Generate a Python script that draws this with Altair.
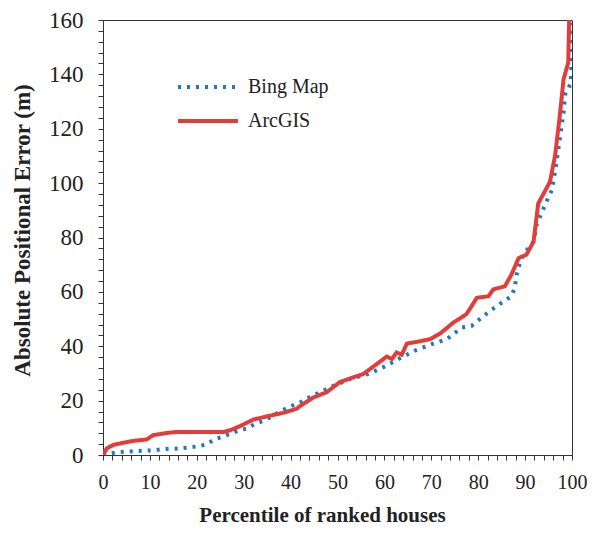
import altair as alt
import pandas as pd

# ArcGIS (solid red) curve
arc_x = [0, 0.8, 2.2, 4.3, 6.5, 9.3, 10.7, 13.6, 15.7, 25.7, 27.1, 29.2, 32.0, 34.9,
         38.4, 41.3, 42.0, 44.8, 47.7, 50.5, 53.4, 55.5, 58.4, 60.5, 61.6, 62.6, 63.7,
         64.8, 66.9, 69.7, 71.9, 72.6, 74.7, 77.5, 79.7, 82.2, 83.2, 85.7, 87.1, 88.6,
         90.3, 91.8, 92.5, 92.8, 93.9, 95.3, 96.4, 97.4, 98.2, 99.2, 99.4]
arc_y = [0, 2.4, 3.7, 4.5, 5.2, 5.7, 7.3, 8.1, 8.5, 8.5, 9.1, 10.6, 13.0, 14.2,
         15.5, 17.0, 18.0, 21.1, 23.1, 26.8, 28.6, 29.8, 33.5, 36.2, 35.3, 37.7, 36.9,
         41.0, 41.6, 42.6, 44.7, 45.7, 48.7, 51.8, 57.8, 58.4, 60.9, 62.1, 66.4, 72.4,
         73.7, 78.5, 88.3, 92.5, 96.0, 100.5, 110.2, 124.8, 138.2, 144.3, 160.0]

# Bing Map (dotted blue) curve
bing_x = [0, 2.6, 4.7, 6.5, 8.6, 10.6, 12.5, 14.4, 16.4, 18.4, 20.3, 22.1, 23.7, 25.5,
          27.2, 29.0, 30.6, 32.5, 34.2, 37.4, 39.2, 40.9, 42.7, 44.1, 49.1, 52.7, 56.6,
          59.8, 63.0, 66.5, 70.1, 73.3, 76.5, 78.6, 80.7, 82.5, 85.0, 87.1, 87.8, 88.3,
          89.6, 91.0, 91.8, 92.5, 94.5, 95.7, 96.6, 97.4, 98.2, 98.6, 99.7, 99.9, 100.0]
bing_y = [0, 0.9, 1.2, 1.4, 1.6, 1.7, 2.1, 2.3, 2.4, 2.8, 3.2, 3.9, 5.7, 6.7,
          7.9, 9.1, 9.7, 11.6, 12.5, 15.6, 17.3, 18.6, 19.8, 21.3, 25.4, 28.0, 29.8,
          32.3, 35.3, 38.4, 40.8, 42.6, 46.9, 47.5, 50.5, 53.0, 56.0, 58.4, 61.5, 67.6,
          73.7, 76.7, 78.5, 85.0, 93.0, 97.4, 106.6, 116.3, 126.0, 133.3, 136.4, 144.3, 159.0]

series = ["Bing Map", "ArcGIS"]
colors = ["#1f78c1", "#e23d3b"]
dashes = [[3, 6], [1, 0]]

x_ticks = list(range(0, 101, 2))
y_ticks = list(range(0, 161, 4))

df = pd.concat([
    pd.DataFrame({"pct": bing_x, "err": bing_y, "series": "Bing Map",
                  "ord": list(range(len(bing_x)))}),
    pd.DataFrame({"pct": arc_x, "err": arc_y, "series": "ArcGIS",
                  "ord": list(range(len(arc_x)))}),
])

FONT = "Liberation Serif"

legend = alt.Legend(
    title=None, orient="none", legendX=93, legendY=55, padding=0,
    symbolType="M-3,0L3,0", symbolSize=400, symbolStrokeWidth=4,
    labelFont=FONT, labelFontSize=20, labelColor="#222", labelOffset=28,
    rowPadding=12,
)

chart = alt.Chart(df).mark_line(clip=True, strokeWidth=4).encode(
    x=alt.X("pct:Q", scale=alt.Scale(domain=[0, 100], nice=False),
            title="Percentile of ranked houses",
            axis=alt.Axis(values=x_ticks,
                          labelExpr="datum.value % 10 === 0 ? datum.label : ''",
                          labelFlush=False, labelOverlap=False, labelFontSize=20,
                          labelPadding=12, titlePadding=12, titleX=219,
                          titleFontSize=21)),
    y=alt.Y("err:Q", scale=alt.Scale(domain=[0, 160], nice=False),
            title="Absolute Positional Error (m)",
            axis=alt.Axis(values=y_ticks,
                          labelExpr="datum.value % 20 === 0 ? datum.label : ''",
                          labelOverlap=False, labelFontSize=23, labelPadding=15,
                          titlePadding=14, titleFontSize=23, titleY=210)),
    color=alt.Color("series:N", scale=alt.Scale(domain=series, range=colors), legend=legend),
    strokeDash=alt.StrokeDash("series:N", scale=alt.Scale(domain=series, range=dashes), legend=legend),
    order="ord:Q",
).properties(
    width=469, height=435,
    autosize=alt.AutoSizeParams(type="none"),
    padding={"left": 95, "top": 12, "right": 15, "bottom": 72},
).configure(
    font=FONT,
).configure_view(
    stroke="#333", strokeWidth=1,
).configure_axis(
    grid=False, domainColor="#333", domainWidth=1, tickColor="#333", tickSize=5,
    labelFont=FONT, labelColor="#222", titleFont=FONT,
    titleFontWeight="bold", titleColor="#222",
)

chart.save("out.html", embed_options={"renderer": "svg", "actions": False})
